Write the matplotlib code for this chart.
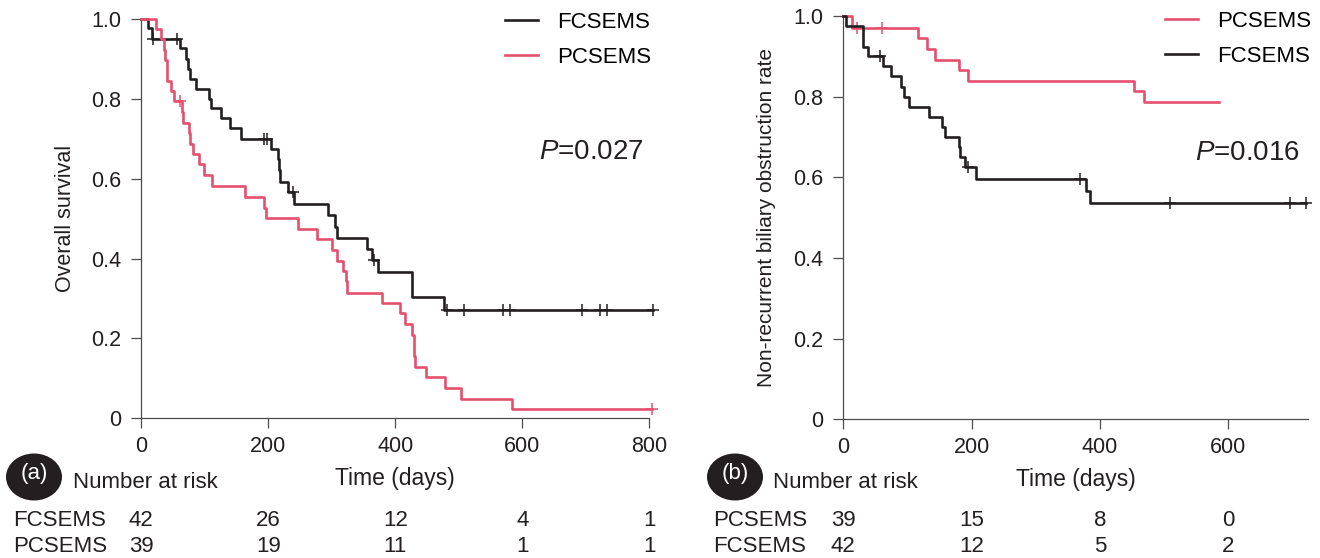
import numpy as np
import matplotlib
matplotlib.use("Agg")
import matplotlib.pyplot as plt
from matplotlib.patches import Ellipse
from matplotlib.transforms import blended_transform_factory

plt.rcParams['font.family'] = ['Liberation Sans', 'DejaVu Sans']
plt.rcParams['mathtext.fontset'] = 'custom'
plt.rcParams['mathtext.it'] = 'Liberation Sans:italic'
plt.rcParams['mathtext.rm'] = 'Liberation Sans'

# ---- (a) overall survival ----
os_fc_t = [11, 17, 61, 70, 74, 77, 86, 107, 109, 125, 139, 157, 205, 216, 217, 218,
           231, 241, 294, 305, 308, 355, 364, 372, 426, 427, 476]
os_fc_s = [0.977, 0.950, 0.927, 0.899, 0.875, 0.850, 0.825, 0.800, 0.776, 0.751, 0.726,
           0.700, 0.674, 0.649, 0.621, 0.593, 0.566, 0.537, 0.509, 0.480, 0.452, 0.423,
           0.396, 0.367, 0.335, 0.303, 0.271]
os_fc_cens = [18, 56, 194, 198, 239, 367, 481, 508, 569, 581, 694, 722, 734, 806]
os_fc_end = 806

os_pc_t = [23, 31, 36, 38, 40, 41, 47, 52, 64, 65, 75, 76, 82, 91, 99, 112, 164, 193,
           196, 247, 277, 300, 308, 317, 323, 324, 379, 407, 416, 426, 429, 430, 431,
           449, 478, 503, 584]
os_pc_s = [0.976, 0.949, 0.922, 0.897, 0.871, 0.845, 0.820, 0.795, 0.768, 0.740, 0.714,
           0.687, 0.662, 0.636, 0.609, 0.583, 0.555, 0.527, 0.502, 0.474, 0.448, 0.421,
           0.395, 0.370, 0.343, 0.315, 0.288, 0.263, 0.236, 0.209, 0.183, 0.156, 0.129,
           0.104, 0.075, 0.048, 0.023]
os_pc_cens = [61, 805]
os_pc_end = 805

os_risk_times = [0, 200, 400, 600, 800]
os_risk_fc = [42, 26, 12, 4, 1]
os_risk_pc = [39, 19, 11, 1, 1]

# ---- (b) non-recurrent biliary obstruction ----
rbo_pc_t = [13, 116, 130, 143, 180, 195, 453, 469]
rbo_pc_s = [0.971, 0.945, 0.918, 0.891, 0.866, 0.840, 0.814, 0.786]
rbo_pc_cens = [21, 61]
rbo_pc_end = 585

rbo_fc_t = [4, 30, 31, 39, 62, 74, 90, 95, 103, 134, 154, 159, 181, 182, 190, 206, 378, 384]
rbo_fc_s = [0.976, 0.949, 0.924, 0.901, 0.876, 0.850, 0.823, 0.798, 0.774, 0.749, 0.726,
            0.701, 0.676, 0.651, 0.626, 0.596, 0.567, 0.537]
rbo_fc_cens = [57, 194, 368, 509, 696, 721]
rbo_fc_end = 721

rbo_risk_times = [0, 200, 400, 600]
rbo_risk_pc = [39, 15, 8, 0]
rbo_risk_fc = [42, 12, 5, 2]

BLACK = '#231f20'
RED = '#e4506e'
AXC = '#4d4d4d'
W, H = 1320, 558


def km_curve(ax, t, s, cens, end, color, label):
    tt = np.r_[0, t, end]
    ss = np.r_[1.0, s, s[-1]]
    line, = ax.step(tt, ss, where='post', color=color, lw=1.9, label=label,
                    clip_on=False, zorder=3)
    idx = np.searchsorted(np.r_[0, t], cens, side='right') - 1
    ax.plot(cens, np.r_[1.0, s][idx], '+', color=color, ms=8, mew=1.1,
            clip_on=False, zorder=3)
    return line


def style_axes(ax, xticks, xmax):
    for side in ['top', 'right']:
        ax.spines[side].set_visible(False)
    for side in ['left', 'bottom']:
        ax.spines[side].set_color(AXC)
        ax.spines[side].set_linewidth(0.9)
    ax.set_xlim(0, xmax)
    ax.set_ylim(0, 1)
    ax.set_xticks(xticks)
    ax.set_yticks([0, 0.2, 0.4, 0.6, 0.8, 1.0])
    ax.set_yticklabels(['0', '0.2', '0.4', '0.6', '0.8', '1.0'])
    ax.tick_params(direction='out', length=7, width=0.9, color=AXC,
                   labelsize=15.5, labelcolor='#231f20', pad=6)
    ax.tick_params(axis='y', pad=7.5)


def risk_table(ax, times, rows, badge, left_px, badge_px):
    tr = blended_transform_factory(ax.transData, fig.transFigure)
    bx, by = badge_px
    fig.patches.append(Ellipse((bx / W, 1 - by / H), 56 / W, 47 / H,
                               transform=fig.transFigure, facecolor='#231f20',
                               edgecolor='none'))
    fig.text(bx / W, 1 - (by - 3) / H, badge, color='white', fontsize=16,
             ha='center', va='center')
    fig.text((left_px + 60) / W, 1 - 483 / H, 'Number at risk', fontsize=16,
             ha='left', va='center', color='#231f20')
    for (name, vals), y in zip(rows, [520, 546]):
        fig.text(left_px / W, 1 - y / H, name, fontsize=16, ha='left',
                 va='center', color='#231f20')
        for t, v in zip(times, vals):
            ax.text(t, 1 - y / H, str(v), transform=tr, fontsize=16,
                    ha='center', va='center', color='#231f20', clip_on=False)


fig = plt.figure(figsize=(13.2, 5.58), dpi=100)
ax1 = fig.add_axes([141.3 / W, 1 - 418.3 / H, 508 / W, 399.3 / H])
ax2 = fig.add_axes([843.3 / W, 1 - 419.3 / H, 464.4 / W, 403.3 / H])

# panel a
l_fc = km_curve(ax1, os_fc_t, os_fc_s, os_fc_cens, os_fc_end, BLACK, 'FCSEMS')
l_pc = km_curve(ax1, os_pc_t, os_pc_s, os_pc_cens, os_pc_end, RED, 'PCSEMS')
style_axes(ax1, [0, 200, 400, 600, 800], 800)
ax1.set_ylabel('Overall survival', fontsize=15.5, color='#231f20')
ax1.yaxis.set_label_coords(-0.128, 0.5)
ax1.set_xlabel('Time (days)', fontsize=16.5, color='#231f20')
ax1.xaxis.set_label_coords(0.5, -0.122)
ax1.legend(handles=[l_fc, l_pc], loc='upper left', bbox_to_anchor=(0.716, 1.018),
           frameon=False, fontsize=16, handlelength=1.5, handletextpad=0.85,
           labelspacing=0.62, borderpad=0, borderaxespad=0)
ax1.text(0.9896, 0.6677, r'$P$=0.027', transform=ax1.transAxes, fontsize=20,
         ha='right', va='center', color='#231f20')
risk_table(ax1, os_risk_times, [('FCSEMS', os_risk_fc), ('PCSEMS', os_risk_pc)],
           '(a)', 13, (34, 477))

# panel b
l_pc2 = km_curve(ax2, rbo_pc_t, rbo_pc_s, rbo_pc_cens, rbo_pc_end, RED, 'PCSEMS')
l_fc2 = km_curve(ax2, rbo_fc_t, rbo_fc_s, rbo_fc_cens, rbo_fc_end, BLACK, 'FCSEMS')
style_axes(ax2, [0, 200, 400, 600], 723.5)
ax2.set_ylabel('Non-recurrent biliary obstruction rate', fontsize=15,
               color='#231f20')
ax2.yaxis.set_label_coords(-0.145, 0.5)
ax2.set_xlabel('Time (days)', fontsize=16.5, color='#231f20')
ax2.xaxis.set_label_coords(0.5, -0.121)
ax2.legend(handles=[l_pc2, l_fc2], loc='upper left', bbox_to_anchor=(0.693, 1.012),
           frameon=False, fontsize=16, handlelength=1.5, handletextpad=0.85,
           labelspacing=0.62, borderpad=0, borderaxespad=0)
ax2.text(0.9834, 0.6596, r'$P$=0.016', transform=ax2.transAxes, fontsize=20,
         ha='right', va='center', color='#231f20')
risk_table(ax2, rbo_risk_times, [('PCSEMS', rbo_risk_pc), ('FCSEMS', rbo_risk_fc)],
           '(b)', 713, (735, 477))

fig.savefig('out.png', dpi=100)
